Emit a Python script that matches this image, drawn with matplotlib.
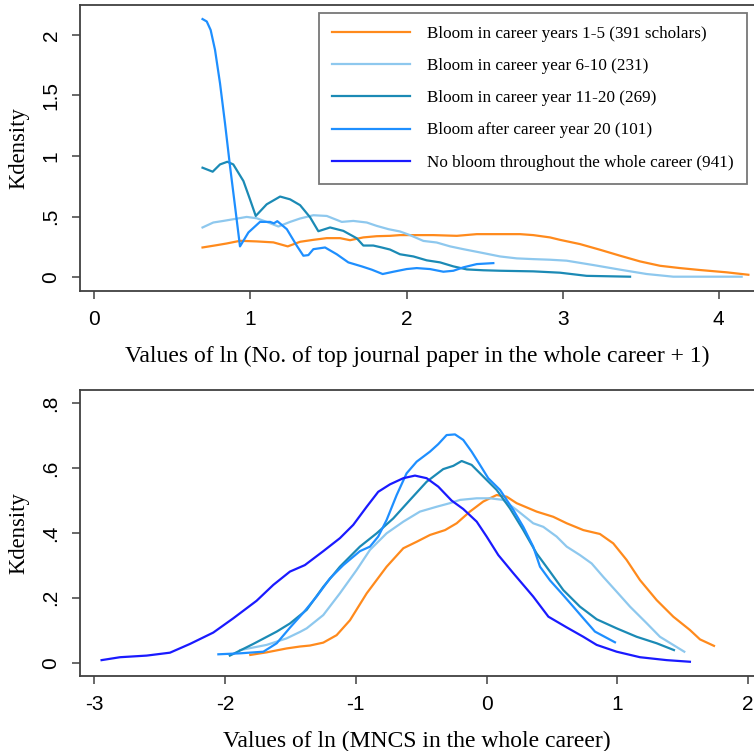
import matplotlib
matplotlib.use('Agg')
import matplotlib.pyplot as plt
import numpy as np

plt.rcParams['axes.unicode_minus'] = False

# series colours (Stata-like palette)
colors = ['#ff8a1c', '#8ec8ee', '#1b8ab5', '#1e8fff', '#1a1aff']
labels = ['Bloom in career years 1-5 (391 scholars)',
          'Bloom in career year 6-10 (231)',
          'Bloom in career year 11-20 (269)',
          'Bloom after career year 20 (101)',
          'No bloom throughout the whole career (941)']

# ---- top panel: ln(No. of top journal papers + 1) ----
top_x_y15 = [0.693, 0.784, 0.848, 0.933, 1.04, 1.147, 1.239, 1.318, 1.403, 1.489, 1.574, 1.638,
             1.723, 1.809, 1.894, 1.958, 2.065, 2.172, 2.322, 2.45, 2.599, 2.727, 2.812, 2.919,
             2.983, 3.111, 3.24, 3.368, 3.496, 3.624, 3.752, 3.88, 4.051, 4.19]
top_d_y15 = [0.246, 0.265, 0.279, 0.301, 0.296, 0.288, 0.255, 0.293, 0.309, 0.323, 0.323, 0.306,
             0.329, 0.339, 0.342, 0.348, 0.348, 0.348, 0.342, 0.356, 0.356, 0.356, 0.348, 0.329,
             0.309, 0.274, 0.227, 0.178, 0.131, 0.095, 0.076, 0.06, 0.041, 0.021]

top_x_y610 = [0.693, 0.762, 0.826, 0.89, 0.976, 1.04, 1.104, 1.179, 1.254, 1.318, 1.403, 1.489,
              1.585, 1.659, 1.745, 1.809, 1.884, 1.958, 2.022, 2.108, 2.193, 2.279, 2.364, 2.471,
              2.599, 2.706, 2.812, 2.919, 3.026, 3.197, 3.368, 3.539, 3.709, 3.88, 4.147]
top_d_y610 = [0.411, 0.452, 0.465, 0.479, 0.498, 0.487, 0.457, 0.419, 0.457, 0.485, 0.512, 0.506,
              0.457, 0.465, 0.452, 0.424, 0.397, 0.378, 0.348, 0.30, 0.287, 0.255, 0.232, 0.205,
              0.172, 0.156, 0.15, 0.145, 0.137, 0.101, 0.063, 0.027, 0.005, 0.005, 0.005]

top_x_y1120 = [0.693, 0.758, 0.805, 0.852, 0.89, 0.955, 0.997, 1.034, 1.104, 1.19, 1.254, 1.318,
               1.382, 1.435, 1.51, 1.595, 1.681, 1.723, 1.787, 1.841, 1.894, 1.958, 2.044, 2.129,
               2.215, 2.30, 2.386, 2.492, 2.599, 2.812, 2.983, 3.154, 3.432]
top_d_y1120 = [0.904, 0.871, 0.931, 0.953, 0.931, 0.794, 0.643, 0.506, 0.602, 0.666, 0.643, 0.595,
               0.495, 0.38, 0.411, 0.383, 0.322, 0.262, 0.262, 0.246, 0.229, 0.19, 0.172, 0.14,
               0.123, 0.09, 0.065, 0.058, 0.054, 0.049, 0.038, 0.012, 0.005]

top_x_y20 = [0.693, 0.72, 0.745, 0.773, 0.805, 0.837, 0.869, 0.901, 0.933, 0.987, 1.061, 1.126, 1.15,
             1.172, 1.233, 1.297, 1.339, 1.371, 1.403, 1.478, 1.553, 1.627, 1.713, 1.777, 1.847,
             1.916, 2.001, 2.065, 2.15, 2.236, 2.30, 2.364, 2.45, 2.556]
top_d_y20 = [2.13, 2.11, 2.04, 1.876, 1.60, 1.27, 0.917, 0.588, 0.255, 0.37, 0.457, 0.457, 0.445,
             0.463, 0.397, 0.26, 0.178, 0.183, 0.232, 0.246, 0.19, 0.123, 0.09, 0.063, 0.027,
             0.046, 0.068, 0.076, 0.068, 0.046, 0.054, 0.082, 0.109, 0.117]

# ---- bottom panel: ln(MNCS) ----
bot_x_y15 = [-1.807, -1.682, -1.53, -1.427, -1.351, -1.249, -1.147, -1.045, -0.917, -0.765, -0.637,
             -0.535, -0.433, -0.318, -0.229, -0.128, -0.026, 0.076, 0.153, 0.229, 0.382, 0.509,
             0.612, 0.739, 0.866, 0.968, 1.07, 1.172, 1.3, 1.427, 1.554, 1.631, 1.738]
bot_d_y15 = [0.024, 0.032, 0.044, 0.05, 0.053, 0.062, 0.085, 0.131, 0.214, 0.296, 0.353,
             0.373, 0.394, 0.409, 0.43, 0.466, 0.497, 0.517, 0.512, 0.492, 0.466, 0.45,
             0.43, 0.409, 0.397, 0.368, 0.317, 0.255, 0.193, 0.142, 0.101, 0.072, 0.052]

bot_x_y610 = [-1.885, -1.682, -1.53, -1.427, -1.376, -1.249, -1.122, -0.994, -0.892, -0.765, -0.637,
              -0.51, -0.382, -0.281, -0.204, -0.076, 0.025, 0.127, 0.229, 0.356, 0.433, 0.535,
              0.612, 0.713, 0.803, 0.891, 0.994, 1.096, 1.223, 1.325, 1.511]
bot_d_y610 = [0.039, 0.055, 0.075, 0.095, 0.106, 0.147, 0.214, 0.286, 0.348, 0.399, 0.435,
              0.466, 0.481, 0.492, 0.502, 0.507, 0.507, 0.502, 0.471, 0.43, 0.419, 0.389,
              0.358, 0.332, 0.306, 0.265, 0.219, 0.173, 0.122, 0.08, 0.034]

bot_x_y1120 = [-1.963, -1.784, -1.605, -1.504, -1.376, -1.249, -1.122, -0.969, -0.841, -0.714,
               -0.586, -0.459, -0.332, -0.255, -0.191, -0.115, -0.026, 0.076, 0.178, 0.28, 0.382,
               0.484, 0.586, 0.713, 0.841, 0.994, 1.147, 1.3, 1.432]
bot_d_y1120 = [0.022, 0.058, 0.096, 0.121, 0.163, 0.234, 0.296, 0.358, 0.399, 0.445,
               0.502, 0.558, 0.597, 0.607, 0.622, 0.61, 0.574, 0.533, 0.476, 0.409, 0.337,
               0.281, 0.224, 0.173, 0.134, 0.106, 0.08, 0.06, 0.039]

bot_x_y20 = [-2.051, -1.885, -1.707, -1.605, -1.504, -1.402, -1.3, -1.198, -1.096, -0.969, -0.892,
             -0.829, -0.765, -0.688, -0.612, -0.535, -0.433, -0.37, -0.306, -0.242, -0.179, -0.115,
             -0.051, 0.012, 0.102, 0.204, 0.28, 0.356, 0.408, 0.484, 0.573, 0.662, 0.739, 0.828, 0.981]
bot_d_y20 = [0.026, 0.029, 0.034, 0.06, 0.108, 0.154, 0.204, 0.26, 0.301, 0.344, 0.358,
             0.389, 0.44, 0.517, 0.584, 0.62, 0.651, 0.674, 0.702, 0.704, 0.687, 0.651,
             0.61, 0.569, 0.533, 0.471, 0.419, 0.358, 0.296, 0.254, 0.214, 0.173, 0.137, 0.096, 0.063]

bot_x_none = [-2.944, -2.803, -2.599, -2.421, -2.268, -2.09, -1.937, -1.759, -1.631, -1.504, -1.39,
              -1.249, -1.122, -1.02, -0.917, -0.829, -0.739, -0.637, -0.548, -0.459, -0.37, -0.268,
              -0.179, -0.076, 0.0, 0.089, 0.204, 0.356, 0.472, 0.612, 0.739, 0.841, 0.994, 1.172,
              1.376, 1.554]
bot_d_none = [0.008, 0.017, 0.022, 0.031, 0.058, 0.093, 0.137, 0.191, 0.24, 0.281, 0.301,
              0.344, 0.384, 0.425, 0.481, 0.527, 0.55, 0.569, 0.577, 0.569, 0.543, 0.5,
              0.474, 0.435, 0.389, 0.332, 0.276, 0.204, 0.142, 0.109, 0.08, 0.055, 0.034, 0.017,
              0.008, 0.003]

top_xticks = [0, 1, 2, 3, 4]
top_yticks = [0, 0.5, 1, 1.5, 2]
top_yticklabels = ['0', '.5', '1', '1.5', '2']
bot_xticks = [-3, -2, -1, 0, 1, 2]
bot_yticks = [0, 0.2, 0.4, 0.6, 0.8]
bot_yticklabels = ['0', '.2', '.4', '.6', '.8']

serif = 'Liberation Serif'
sans = 'Liberation Sans'
spine_col = '#404040'

fig = plt.figure(figsize=(7.54, 7.51), dpi=100)
W, H = 754, 751
ax1 = fig.add_axes([80 / W, (H - 291) / H, (W - 80) / W, (291 - 5) / H])
ax2 = fig.add_axes([80 / W, (H - 675.7) / H, (W - 80) / W, (675.7 - 390.3) / H])


def style(ax):
    for s in ['top', 'bottom', 'left']:
        ax.spines[s].set_color(spine_col)
        ax.spines[s].set_linewidth(1.3)
    ax.spines['right'].set_visible(False)
    ax.tick_params(axis='both', direction='out', length=6, width=1.1, color=spine_col,
                   labelsize=15)
    ax.tick_params(axis='x', pad=8)
    ax.tick_params(axis='y', pad=8)
    for t in ax.get_xticklabels() + ax.get_yticklabels():
        t.set_fontfamily(sans)


lw = 1.6
top_series = [(top_x_y15, top_d_y15), (top_x_y610, top_d_y610),
              (top_x_y1120, top_d_y1120), (top_x_y20, top_d_y20)]
for (xs, ds), c, lab in zip(top_series, colors, labels):
    ax1.plot(xs, ds, color=c, lw=lw, label=lab)
# empty "no bloom" series only shows in the legend (all values at ln(0+1)=0)
ax1.plot([], [], color=colors[4], lw=lw, label=labels[4])

ax1.set_xlim(-0.092, 4.226)
ax1.set_ylim(-0.113, 2.246)
ax1.set_xticks(top_xticks)
ax1.set_yticks(top_yticks)
ax1.set_yticklabels(top_yticklabels, rotation=90, va='center', ha='right')
ax1.set_ylabel('Kdensity', fontsize=16.3, fontfamily=serif, labelpad=9)
ax1.set_xlabel('Values of ln (No. of top journal paper in the whole career + 1)',
               fontsize=17, fontfamily=serif, labelpad=12)
style(ax1)

leg = ax1.legend(loc='upper left', bbox_to_anchor=(319 / W, 1 - 13 / H),
                 bbox_transform=fig.transFigure, borderaxespad=0, frameon=True,
                 fancybox=False, handlelength=4.6, handletextpad=1.0, labelspacing=0.95,
                 borderpad=0.75, prop={'family': serif, 'size': 12.3})
leg.get_frame().set_edgecolor('#555555')
leg.get_frame().set_linewidth(1.3)

bot_series = [(bot_x_y15, bot_d_y15), (bot_x_y610, bot_d_y610),
              (bot_x_y1120, bot_d_y1120), (bot_x_y20, bot_d_y20), (bot_x_none, bot_d_none)]
for (xs, ds), c in zip(bot_series, colors):
    ax2.plot(xs, ds, color=c, lw=lw)

ax2.set_xlim(-3.109, 2.044)
ax2.set_ylim(-0.040, 0.840)
ax2.set_xticks(bot_xticks)
ax2.set_yticks(bot_yticks)
ax2.set_yticklabels(bot_yticklabels, rotation=90, va='center', ha='right')
ax2.set_ylabel('Kdensity', fontsize=16.3, fontfamily=serif, labelpad=9)
ax2.set_xlabel('Values of ln (MNCS in the whole career)', fontsize=17, fontfamily=serif,
               labelpad=12)
style(ax2)

fig.savefig('out.png', dpi=100)
